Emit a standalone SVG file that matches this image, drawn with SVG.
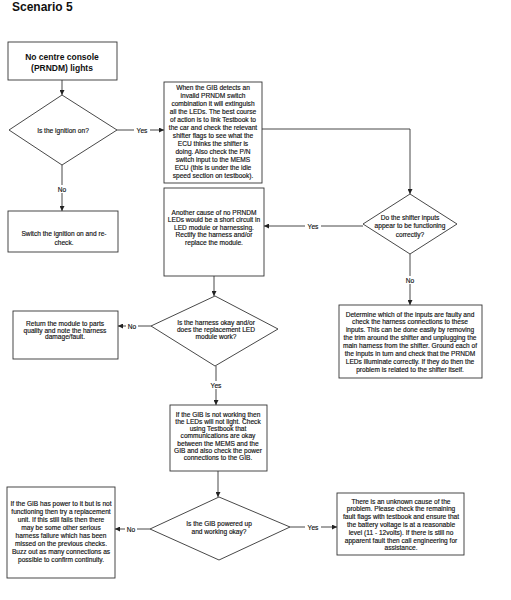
<svg xmlns="http://www.w3.org/2000/svg" width="511" height="600" viewBox="0 0 511 600">
<defs>
<marker id="ah" viewBox="0 0 10 10" refX="10" refY="5" markerWidth="5" markerHeight="5" orient="auto" markerUnits="userSpaceOnUse">
<path d="M0,0 L10,5 L0,10 z" fill="#222"/>
</marker>
</defs>
<style>
.box{fill:#fff;stroke:#333;stroke-width:0.9}
.t{font-family:"Liberation Sans",Arial,sans-serif;font-size:6.6px;fill:#111;text-anchor:middle;stroke:#111;stroke-width:0.15}
.h{font-family:"Liberation Sans",Arial,sans-serif;font-size:8.5px;font-weight:bold;fill:#111;text-anchor:middle}
.c{fill:none;stroke:#333;stroke-width:0.9}
.lb{fill:#fff}
</style>
<rect width="511" height="600" fill="#fff"/>
<text x="12" y="11" font-family="Liberation Sans,Arial,sans-serif" font-size="12" font-weight="bold" fill="#111">Scenario 5</text>

<g id="connectors">
<path class="c" d="M62,80 V95" marker-end="url(#ah)"/>
<path class="c" d="M117,130 H164" marker-end="url(#ah)"/>
<path class="c" d="M62,165 V211" marker-end="url(#ah)"/>
<path class="c" d="M262,129 H410 V194" marker-end="url(#ah)"/>
<path class="c" d="M363,226 H264" marker-end="url(#ah)"/>
<path class="c" d="M410,254 V305" marker-end="url(#ah)"/>
<path class="c" d="M214,276 V296" marker-end="url(#ah)"/>
<path class="c" d="M151,326 H118" marker-end="url(#ah)"/>
<path class="c" d="M216,366 V405" marker-end="url(#ah)"/>
<path class="c" d="M218,471 V497" marker-end="url(#ah)"/>
<path class="c" d="M290,527 H337" marker-end="url(#ah)"/>
<path class="c" d="M150,529 H115" marker-end="url(#ah)"/>
<rect class="lb" x="134" y="126" width="16" height="8"/>
<text class="t" x="142" y="132.5">Yes</text>
<rect class="lb" x="56" y="185" width="12" height="8"/>
<text class="t" x="62" y="191.5">No</text>
<rect class="lb" x="305" y="222" width="16" height="8"/>
<text class="t" x="313" y="228.5">Yes</text>
<rect class="lb" x="404" y="276" width="12" height="8"/>
<text class="t" x="410" y="282.5">No</text>
<rect class="lb" x="126" y="322" width="12" height="8"/>
<text class="t" x="132" y="328.5">No</text>
<rect class="lb" x="208" y="381" width="16" height="8"/>
<text class="t" x="216" y="387.5">Yes</text>
<rect class="lb" x="305" y="523" width="16" height="8"/>
<text class="t" x="313" y="529.5">Yes</text>
<rect class="lb" x="125" y="525" width="12" height="8"/>
<text class="t" x="131" y="531.5">No</text>
</g>

<g id="start">
<rect class="box" x="8" y="42" width="109" height="38"/>
<text class="h" x="62" y="60">No centre console</text>
<text class="h" x="62" y="70.5">(PRNDM) lights</text>
</g>

<g id="ignition">
<polygon class="box" points="62,95 117,130 62,165 9,130"/>
<text class="t" x="63" y="132.5">Is the ignition on?</text>
</g>

<g id="switch-ignition">
<rect class="box" x="8" y="211" width="110" height="41"/>
<text class="t" x="64" y="235.5">Switch the ignition on and re-</text>
<text class="t" x="64" y="244.5">check.</text>
</g>

<g id="gib-detects">
<rect class="box" x="164" y="82" width="98" height="101"/>
<text class="t" x="213" y="90">When the GIB detects an</text>
<text class="t" x="213" y="98">invalid PRNDM switch</text>
<text class="t" x="213" y="106">combination it will extinguish</text>
<text class="t" x="213" y="114">all the LEDs.  The best course</text>
<text class="t" x="213" y="122">of action is to link Testbook to</text>
<text class="t" x="213" y="130">the car and check the relevant</text>
<text class="t" x="213" y="138">shifter flags to see what the</text>
<text class="t" x="213" y="146">ECU thinks the shifter is</text>
<text class="t" x="213" y="154">doing. Also check the P/N</text>
<text class="t" x="213" y="162">switch input to the MEMS</text>
<text class="t" x="213" y="170">ECU (this is under the idle</text>
<text class="t" x="213" y="178">speed section on testbook).</text>
</g>

<g id="shifter-inputs">
<polygon class="box" points="410,194 457,224 410,254 363,224"/>
<text class="t" x="410" y="219.5">Do the shifter inputs</text>
<text class="t" x="410" y="228">appear to be functioning</text>
<text class="t" x="410" y="236.5">correctly?</text>
</g>

<g id="another-cause">
<rect class="box" x="164" y="188" width="100" height="88"/>
<text class="t" x="214" y="214.5">Another cause of no PRNDM</text>
<text class="t" x="214" y="222">LEDs would be a short circuit in</text>
<text class="t" x="214" y="229.5">LED module or harnessing.</text>
<text class="t" x="214" y="237">Rectify the harness and/or</text>
<text class="t" x="214" y="244.5">replace the module.</text>
</g>

<g id="determine">
<rect class="box" x="339" y="305" width="143" height="73"/>
<text class="t" x="410" y="316.5">Determine which of the inputs are faulty and</text>
<text class="t" x="410" y="324.4">check the harness connections to these</text>
<text class="t" x="410" y="332.2">inputs.  This can be done easily by removing</text>
<text class="t" x="410" y="340.1">the trim around the shifter and unplugging the</text>
<text class="t" x="410" y="347.9">main harness from the shifter.  Ground each of</text>
<text class="t" x="410" y="355.8">the inputs in turn and check that the PRNDM</text>
<text class="t" x="410" y="363.6">LEDs illuminate correctly.  If they do then the</text>
<text class="t" x="410" y="371.5">problem is related to the shifter itself.</text>
</g>

<g id="harness-okay">
<polygon class="box" points="215,296 278,329 215,366 151,326"/>
<text class="t" x="216" y="325">Is the harness okay and/or</text>
<text class="t" x="216" y="332">does the replacement LED</text>
<text class="t" x="216" y="339">module work?</text>
</g>

<g id="return-module">
<rect class="box" x="13" y="311" width="105" height="48"/>
<text class="t" x="65" y="326">Return the module to parts</text>
<text class="t" x="65" y="332.5">quality and note the harness</text>
<text class="t" x="65" y="339">damage/fault.</text>
</g>

<g id="gib-not-working">
<rect class="box" x="170" y="405" width="97" height="66"/>
<text class="t" x="218" y="416.5">If the GIB is not working then</text>
<text class="t" x="218" y="423.8">the LEDs will not light.  Check</text>
<text class="t" x="218" y="431.1">using Testbook that</text>
<text class="t" x="218" y="438.4">communications are okay</text>
<text class="t" x="218" y="445.7">between the MEMS and the</text>
<text class="t" x="218" y="453">GIB and also check the power</text>
<text class="t" x="218" y="460.3">connections to the GIB.</text>
</g>

<g id="gib-powered">
<polygon class="box" points="219,497 290,527 219,560 150,529"/>
<text class="t" x="219" y="525.5">Is the GIB powered up</text>
<text class="t" x="219" y="534">and working okay?</text>
</g>

<g id="gib-replace">
<rect class="box" x="7" y="487" width="108" height="91"/>
<text class="t" x="61" y="505.5">If the GIB has power to it but is not</text>
<text class="t" x="61" y="513.6">functioning then try a replacement</text>
<text class="t" x="61" y="521.7">unit.  If this still fails then there</text>
<text class="t" x="61" y="529.8">may be some other serious</text>
<text class="t" x="61" y="537.9">harness failure which has been</text>
<text class="t" x="61" y="546">missed on the previous checks.</text>
<text class="t" x="61" y="554.1">Buzz out as many connections as</text>
<text class="t" x="61" y="562.2">possible to confirm continuity.</text>
</g>

<g id="unknown-cause">
<rect class="box" x="337" y="493" width="127" height="62"/>
<text class="t" x="401" y="503.5">There is an unknown cause of the</text>
<text class="t" x="401" y="511.3">problem.  Please check the remaining</text>
<text class="t" x="401" y="519.1">fault flags with testbook and ensure that</text>
<text class="t" x="401" y="526.9">the battery voltage is at a reasonable</text>
<text class="t" x="401" y="534.7">level (11 - 12volts).  If there is still no</text>
<text class="t" x="401" y="542.5">apparent fault then call engineering for</text>
<text class="t" x="401" y="550.3">assistance.</text>
</g>
</svg>
